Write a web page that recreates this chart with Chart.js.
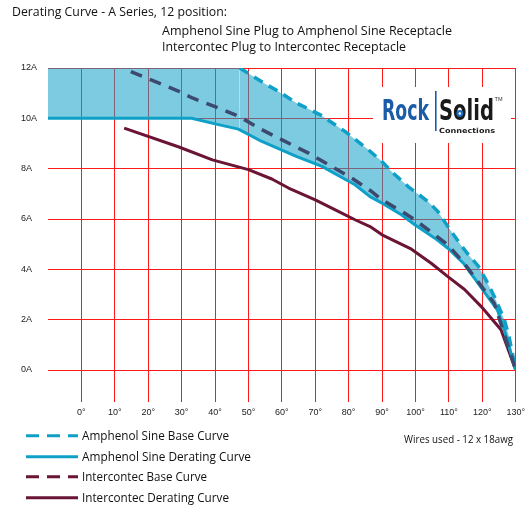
<!DOCTYPE html>
<html>
<head>
<meta charset="utf-8">
<script src="https://cdn.jsdelivr.net/npm/chart.js@4"></script>
<style>
  html, body { margin: 0; padding: 0; background: #ffffff; }
  #wrap { width: 530px; height: 510px; }
</style>
</head>
<body>
<div id="wrap"><canvas id="c" width="530" height="510"></canvas></div>
<script>
// ---- Data ----
const titleLines = ['Derating Curve - A Series, 12 position:', 'Amphenol Sine Plug to Amphenol Sine Receptacle', 'Intercontec Plug to Intercontec Receptacle'];
const seriesNames = ['Amphenol Sine Base Curve', 'Amphenol Sine Derating Curve', 'Intercontec Base Curve', 'Intercontec Derating Curve'];
const xTickValues = [0, 10, 20, 30, 40, 50, 60, 70, 80, 90, 100, 110, 120, 130];
const yTickValues = [0, 2, 4, 6, 8, 10, 12];
const noteText = 'Wires used - 12 x 18awg';

const ampBaseT = [-10, 47.4, 54.6, 59, 64.5, 71.5, 78.9, 85.9, 90, 92.8, 97.8, 103.8, 106.7, 109.7, 113.2, 116, 118.7, 121.1, 123.6, 126.6, 128, 130];
const ampBaseA = [12, 12, 11.4, 11.07, 10.6, 10.14, 9.48, 8.75, 8.28, 7.89, 7.29, 6.69, 6.3, 5.7, 5.04, 4.55, 4.15, 3.58, 2.92, 2.0, 1.33, 0];

const ampDerT = [-10, 33, 41, 47, 54, 64.5, 72, 81.9, 86.4, 90, 95.8, 99.8, 105.8, 109.7, 114.5, 118.7, 121.6, 124.5, 126.6, 130];
const ampDerA = [10, 10, 9.75, 9.57, 9.08, 8.48, 8.09, 7.36, 6.89, 6.63, 6.17, 5.77, 5.24, 4.84, 4.22, 3.45, 2.92, 2.39, 1.59, 0];

const intBaseT = [14.8, 29.2, 33.2, 41.1, 47.1, 54, 64, 68, 74.9, 80.9, 86.9, 90, 96.8, 99.8, 105.8, 109.7, 114.5, 118.2, 123.6, 130];
const intBaseA = [11.86, 11.07, 10.81, 10.41, 10.08, 9.55, 8.88, 8.62, 8.09, 7.63, 7.09, 6.76, 6.23, 5.97, 5.37, 4.97, 4.25, 3.6, 2.65, 0];

const intDerT = [12.8, 29.2, 39.2, 50, 57, 62, 70, 76.9, 81.9, 86.4, 90, 98.8, 104.7, 109.7, 114.7, 119.7, 125.6, 130];
const intDerA = [9.61, 8.86, 8.35, 7.96, 7.59, 7.23, 6.76, 6.3, 5.97, 5.7, 5.37, 4.8, 4.24, 3.71, 3.2, 2.52, 1.6, 0];

// ---- Styles ----
const CYAN = '#0fa0c8';
const NAVY = '#3b4a6e';
const MAROON = '#6a1436';
const FILL = 'rgba(16,160,200,0.55)';
const FONT = '"Open Sans", "Noto Sans", sans-serif';
const TICKFONT = '"Liberation Sans", Arial, sans-serif';
const LOGOFONT = '"Liberation Sans Narrow", "DejaVu Sans Condensed", sans-serif';

const pts = (t, a) => t.map((v, i) => ({ x: v, y: a[i] }));

function fitText(ctx, text, x, baseline, width, size, family, weight, color) {
  ctx.save();
  ctx.font = weight + ' ' + size + 'px ' + family;
  ctx.textAlign = 'left';
  ctx.textBaseline = 'alphabetic';
  const w = ctx.measureText(text).width;
  ctx.translate(x, baseline);
  ctx.scale(width / w, 1);
  ctx.fillStyle = color;
  ctx.fillText(text, 0, 0);
  ctx.restore();
  return width / w;
}

const legendItems = [
  { name: seriesNames[0], color: CYAN, dash: [13, 8] },
  { name: seriesNames[1], color: CYAN, dash: [] },
  { name: seriesNames[2], color: MAROON, dash: [13, 8] },
  { name: seriesNames[3], color: MAROON, dash: [] }
];
const legendTextWidths = [147, 169, 125, 147];

const decorPlugin = {
  id: 'decor',
  afterDraw(chart) {
    const ctx = chart.ctx;
    // Titles
    fitText(ctx, titleLines[0], 12, 16, 215, 13, FONT, 'normal', '#111');
    fitText(ctx, titleLines[1], 162, 34.5, 290, 13, FONT, 'normal', '#111');
    fitText(ctx, titleLines[2], 162, 50.5, 244, 13, FONT, 'normal', '#111');

    // Legend
    const rowY = [435.7, 456.7, 476.7, 497.7];
    legendItems.forEach((it, i) => {
      ctx.save();
      ctx.strokeStyle = it.color;
      ctx.lineWidth = 3;
      ctx.lineCap = 'butt';
      ctx.setLineDash(it.dash);
      ctx.beginPath();
      ctx.moveTo(26, rowY[i]);
      ctx.lineTo(78, rowY[i]);
      ctx.stroke();
      ctx.restore();
      fitText(ctx, it.name, 82, rowY[i] + 4.5, legendTextWidths[i], 13, FONT, 'normal', '#111');
    });

    // Note
    fitText(ctx, noteText, 404, 443, 109, 10, FONT, 'normal', '#111');

    // Logo
    ctx.save();
    ctx.fillStyle = '#ffffff';
    ctx.fillRect(373, 87, 138, 56);
    ctx.restore();
    fitText(ctx, 'Rock', 382, 120, 47, 28, LOGOFONT, 'bold', '#1b5ca8');
    ctx.save();
    ctx.fillStyle = '#1b5ca8';
    ctx.fillRect(435, 91, 1.6, 40);
    ctx.restore();
    const sc = fitText(ctx, 'Solid', 439, 120, 55, 28, LOGOFONT, 'bold', '#1a1a1a');
    ctx.save();
    ctx.font = 'bold 28px ' + LOGOFONT;
    const wS = ctx.measureText('S').width, wo = ctx.measureText('o').width;
    const cx = 439 + (wS + wo / 2) * sc;
    ctx.fillStyle = '#1b6fc0';
    ctx.beginPath(); ctx.arc(cx, 113.5, 3.4, 0, Math.PI * 2); ctx.fill();
    ctx.fillStyle = '#ffffff';
    ctx.beginPath(); ctx.arc(cx, 113.5, 1.2, 0, Math.PI * 2); ctx.fill();
    ctx.restore();
    fitText(ctx, 'TM', 494.5, 101, 8, 5, TICKFONT, 'normal', '#333');
    fitText(ctx, 'Connections', 439, 132.5, 56, 7, LOGOFONT, 'bold', '#1a1a1a');
  }
};

new Chart(document.getElementById('c'), {
  type: 'line',
  data: {
    datasets: [
      {
        label: seriesNames[2], data: pts(intBaseT, intBaseA),
        borderColor: NAVY, borderWidth: 3.5, borderDash: [12, 8.5], fill: false, order: 0
      },
      {
        label: seriesNames[0], data: pts(ampBaseT, ampBaseA),
        borderColor: CYAN, borderWidth: 3.5, borderDash: [10, 7], order: 1,
        fill: { target: 2 }, backgroundColor: FILL,
        segment: { borderColor: c => (c.p0DataIndex === 0 ? 'transparent' : CYAN) }
      },
      {
        label: seriesNames[1], data: pts(ampDerT, ampDerA),
        borderColor: CYAN, borderWidth: 3, fill: false, order: 2
      },
      {
        label: seriesNames[3], data: pts(intDerT, intDerA),
        borderColor: MAROON, borderWidth: 3, fill: false, order: 3
      }
    ]
  },
  options: {
    responsive: false,
    animation: false,
    parsing: true,
    elements: { point: { radius: 0 }, line: { tension: 0, borderCapStyle: 'butt', borderJoinStyle: 'round' } },
    layout: { padding: { left: 21, right: 12, top: 68, bottom: 0 } },
    plugins: {
      legend: { display: false },
      tooltip: { enabled: false },
      filler: { drawTime: 'beforeDatasetsDraw' }
    },
    scales: {
      x: {
        type: 'linear', min: -10, max: 130,
        afterBuildTicks: s => { s.ticks = [-10].concat(xTickValues).map(v => ({ value: v })); },
        afterFit: s => { s.height = 140; },
        border: { display: false },
        grid: {
          color: c => (c.tick && c.tick.value === -10 ? 'rgba(0,0,0,0)' : '#ff1a1a'),
          lineWidth: 1, tickLength: 32, drawTicks: true
        },
        ticks: {
          autoSkip: false, maxRotation: 0, padding: 5, color: '#222',
          font: { family: TICKFONT, size: 9 },
          callback: v => (v === -10 ? '' : v + '°')
        }
      },
      y: {
        type: 'linear', min: 0, max: 12,
        afterBuildTicks: s => { s.ticks = yTickValues.map(v => ({ value: v })); },
        afterFit: s => { s.width = 27; },
        border: { display: false },
        grid: { color: '#ff1a1a', lineWidth: 1, drawTicks: false },
        ticks: {
          crossAlign: 'far', padding: 0, color: '#222',
          font: { family: TICKFONT, size: 9 },
          callback: v => v + 'A'
        }
      }
    }
  },
  plugins: [decorPlugin]
});
</script>
</body>
</html>
